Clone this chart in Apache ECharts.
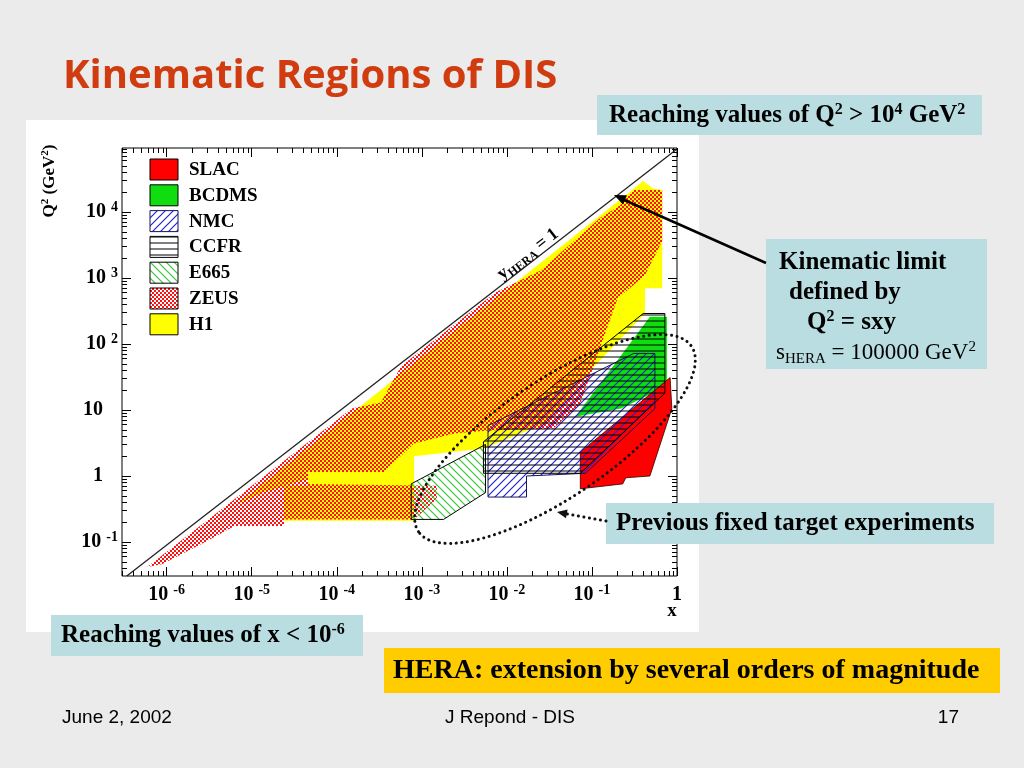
<!DOCTYPE html>
<html>
<head>
<meta charset="utf-8">
<title>Kinematic Regions of DIS</title>
<script src="https://cdn.jsdelivr.net/npm/echarts@6.0.0/dist/echarts.min.js"></script>
<style>
html,body{margin:0;padding:0;background:#ebebeb;}
#chart{width:1024px;height:768px;}
</style>
</head>
<body>
<div id="chart"></div>
<script>
// ---------------- data (x, Q^2 in GeV^2) ----------------
const xLogRange = [-6.525, 0];          // log10 x axis extent
const yLogRange = [-1.515, 4.97];       // log10 Q^2 axis extent
const xTickExponents = [-6, -5, -4, -3, -2, -1, 0];
const yTickExponents = [-1, 0, 1, 2, 3, 4];
const sHERA = 90200;                     // kinematic limit Q^2 = s x (y = 1)
const limitX = [3.4e-7, 1];
const legendNames = ['SLAC', 'BCDMS', 'NMC', 'CCFR', 'E665', 'ZEUS', 'H1'];

const slacRegion  = [[0.073,2.3],[0.83,31],[0.87,10.5],[0.48,1.0],[0.25,0.94],[0.23,0.76],[0.073,0.64]];
const bcdmsRegion = [[0.064,7.9],[0.48,260],[0.76,260],[0.76,23],[0.22,10.5]];
const nmcRegion   = [[0.006,5.8],[0.31,72],[0.55,72],[0.55,10.5],[0.084,1.1],[0.017,1.0],[0.017,0.48],[0.006,0.48]];
const ccfrRegion  = [[0.0053,3.3],[0.40,290],[0.72,290],[0.72,18],[0.073,1.1],[0.0053,1.1]];
const e665Region  = [[7.5e-4,0.76],[0.0056,3.0],[0.0056,0.56],[0.0018,0.22],[7.5e-4,0.22]];
const zeusRegion  = [[5.9e-7,0.042],[7.6e-6,0.54],[1.5e-4,10.5],[3.3e-4,13],[5.7e-4,46],[0.0074,610],
  [0.025,1300],[0.125,8100],[0.215,12700],[0.31,2.15e4],[0.67,2.15e4],[0.67,3600],[0.42,1100],[0.2,490],[0.136,120],
  [0.073,12.5],[0.035,5.2],[0.006,4.9],[0.0024,4.4],[8.1e-4,3.1],[3.6e-4,1.15],[4.6e-5,1.15],[4.6e-5,0.76],
  [0.0015,0.71],[0.0015,0.45],[8.1e-4,0.22],[2.4e-5,0.22],[2.4e-5,0.175],[6.3e-6,0.175],[2.6e-6,0.094],[8.8e-7,0.046]];
const h1Region    = [[6.8e-6,0.37],[4.7e-4,29],[0.37,2.7e4],[0.39,3.0e4],[0.52,2.3e4],[0.67,2.15e4],[0.67,700],
  [0.42,700],[0.42,290],[0.096,40],[0.028,6.2],[0.0053,2.6],[8.1e-4,2.0],[8.1e-4,0.21],[2.4e-5,0.21],
  [2.4e-5,0.71],[4.6e-5,0.71],[4.6e-5,0.91],[1.3e-5,0.56]];

// ---------------- helpers ----------------
const SERIF = '"Liberation Serif","Times New Roman",serif';
const SANS = '"Liberation Sans",Arial,sans-serif';

function makeCanvas(w, h, draw) {
  const c = document.createElement('canvas');
  c.width = w; c.height = h;
  draw(c.getContext('2d'));
  return c;
}
function hatch(size, color, dir, lw) {
  return makeCanvas(size, size, g => {
    g.strokeStyle = color; g.lineWidth = lw; g.beginPath();
    if (dir === 'h') { g.moveTo(0, size / 2); g.lineTo(size, size / 2); }
    else if (dir === '/') {
      g.moveTo(-1, 1); g.lineTo(1, -1);
      g.moveTo(0, size); g.lineTo(size, 0);
      g.moveTo(size - 1, size + 1); g.lineTo(size + 1, size - 1);
    } else {
      g.moveTo(-1, size - 1); g.lineTo(1, size + 1);
      g.moveTo(0, 0); g.lineTo(size, size);
      g.moveTo(size - 1, -1); g.lineTo(size + 1, 1);
    }
    g.stroke();
  });
}
const patterns = {
  ZEUS: { image: makeCanvas(4, 4, g => { g.fillStyle = '#ff1010'; g.fillRect(0, 0, 2, 2); g.fillRect(2, 2, 2, 2); }), repeat: 'repeat' },
  NMC:  { image: hatch(8, '#2424c8', '/', 1.2), repeat: 'repeat' },
  CCFR: { image: hatch(6, '#000000', 'h', 1), repeat: 'repeat' },
  E665: { image: hatch(8, '#34c834', '\\', 1.2), repeat: 'repeat' }
};
const fills = { SLAC: '#ff0000', BCDMS: '#10dd10', NMC: patterns.NMC, CCFR: patterns.CCFR, E665: patterns.E665, ZEUS: patterns.ZEUS, H1: '#ffff00' };

function minorTicks(range) {
  const out = [];
  for (let n = Math.floor(range[0]); n < Math.ceil(range[1]); n++) {
    for (let k = 2; k <= 9; k++) {
      const v = n + Math.log10(k);
      if (v > range[0] && v < range[1]) out.push(v);
    }
  }
  return out;
}
const xMinor = minorTicks(xLogRange);
const yMinor = minorTicks(yLogRange);

const labelRich = {
  b: { fontFamily: SERIF, fontWeight: 'bold', fontSize: 20, color: '#000', lineHeight: 24, verticalAlign: 'middle' },
  e: { fontFamily: SERIF, fontWeight: 'bold', fontSize: 14, color: '#000', lineHeight: 11, verticalAlign: 'top' },
  sp: { width: 15 }
};
function xLabel(v) { const n = Math.round(v); if (n === 0) return '{b|1}'; if (n === 1) return '{b|10}'; return '{b|10 }{e|' + n + '}'; }
function yLabel(v) { const n = Math.round(v); if (n === 0) return '{b|1}{sp|}'; if (n === 1) return '{b|10}{sp|}'; return '{b|10 }{e|' + n + '}'; }

function axis(kind, pos, vals, len, withLabels) {
  const r = kind === 'x' ? xLogRange : yLogRange;
  return {
    type: 'value', min: r[0], max: r[1], position: pos,
    axisLine: { show: false, onZero: false }, splitLine: { show: false },
    axisTick: { show: true, inside: true, length: len, customValues: vals, lineStyle: { color: '#000', width: 1 } },
    axisLabel: withLabels ? {
      show: true, customValues: vals, margin: kind === 'x' ? 7 : 4,
      formatter: kind === 'x' ? xLabel : yLabel, rich: labelRich
    } : { show: false }
  };
}

function polySeries(name, pts, fill, stroke, lw, z) {
  const data = pts.map(p => [Math.log10(p[0]), Math.log10(p[1])]);
  return {
    type: 'custom', name: name, z: z, silent: true, xAxisIndex: 0, yAxisIndex: 0,
    data: data,
    renderItem: function (params, api) {
      if (params.dataIndex !== 0) return null;
      const points = data.map(d => api.coord(d));
      return { type: 'polygon', shape: { points: points },
        style: { fill: fill, stroke: stroke || 'none', lineWidth: lw || 0 } };
    }
  };
}

// ---------------- graphics (slide decoration) ----------------
const boxBlue = '#b9dde1';
function textEl(text, x, y, font, opts) {
  return Object.assign({ type: 'text', z: 30, silent: true,
    style: Object.assign({ text: text, x: x, y: y, font: font, fill: '#000', verticalAlign: 'middle', textVerticalAlign: 'middle' }, (opts && opts.style) || {}) },
    (opts && opts.el) || {});
}
const supRich = (size, weight) => ({
  t: { fontFamily: SERIF, fontWeight: weight, fontSize: size, lineHeight: size + 4, verticalAlign: 'middle', color: '#000' },
  s: { fontFamily: SERIF, fontWeight: weight, fontSize: Math.round(size * 0.65), lineHeight: Math.round(size * 0.55), verticalAlign: 'top', color: '#000' },
  d: { fontFamily: SERIF, fontWeight: weight, fontSize: Math.round(size * 0.65), lineHeight: Math.round(size * 0.55), verticalAlign: 'bottom', color: '#000' }
});

const graphics = [
  { type: 'rect', z: 0, silent: true, shape: { x: 26, y: 120, width: 673, height: 512 }, style: { fill: '#ffffff' } },
  textEl('Kinematic Regions of DIS', 63, 77, 'bold 40px "Comic Sans MS","Open Sans",sans-serif', { style: { fill: '#d03c10' } }),
  // top box
  { type: 'rect', z: 25, silent: true, shape: { x: 597, y: 95, width: 385, height: 40 }, style: { fill: boxBlue } },
  { type: 'text', z: 30, silent: true, style: { x: 609, y: 116, verticalAlign: 'middle',
      text: '{t|Reaching values of Q}{s|2}{t| > 10}{s|4}{t| GeV}{s|2}', rich: supRich(25, 'bold') } },
  // kinematic limit box
  { type: 'rect', z: 25, silent: true, shape: { x: 766, y: 239, width: 221, height: 130 }, style: { fill: boxBlue } },
  textEl('Kinematic limit', 779, 263, 'bold 25px ' + SERIF),
  textEl('defined by', 789, 293, 'bold 25px ' + SERIF),
  { type: 'text', z: 30, silent: true, style: { x: 807, y: 323, verticalAlign: 'middle',
      text: '{t|Q}{s|2}{t| = sxy}', rich: supRich(25, 'bold') } },
  { type: 'text', z: 30, silent: true, style: { x: 776, y: 353, verticalAlign: 'middle',
      text: '{t|s}{d|HERA}{t| = 100000 GeV}{s|2}', rich: supRich(23, 'normal') } },
  // previous fixed target box
  { type: 'rect', z: 25, silent: true, shape: { x: 606, y: 503, width: 388, height: 41 }, style: { fill: boxBlue } },
  textEl('Previous fixed target experiments', 616, 524, 'bold 25px ' + SERIF),
  // x < 1e-6 box
  { type: 'rect', z: 25, silent: true, shape: { x: 51, y: 615, width: 312, height: 41 }, style: { fill: boxBlue } },
  { type: 'text', z: 30, silent: true, style: { x: 61, y: 636, verticalAlign: 'middle',
      text: '{t|Reaching values of x < 10}{s|-6}', rich: supRich(25, 'bold') } },
  // HERA box
  { type: 'rect', z: 25, silent: true, shape: { x: 384, y: 648, width: 616, height: 45 }, style: { fill: '#ffcc00' } },
  textEl('HERA: extension by several orders of magnitude', 393, 671, 'bold 28px ' + SERIF),
  // footer
  textEl('June 2, 2002', 62, 718, '19px ' + SANS),
  textEl('J Repond - DIS', 510, 718, '19px ' + SANS, { style: { textAlign: 'center', align: 'center' } }),
  textEl('17', 959, 718, '19px ' + SANS, { style: { textAlign: 'right', align: 'right' } }),
  // axis titles
  { type: 'text', z: 30, silent: true, x: 50, y: 181, rotation: Math.PI / 2,
    style: { x: 0, y: 0, align: 'center', verticalAlign: 'middle',
      text: '{t|Q}{s|2}{t| (GeV}{s|2}{t|)}', rich: supRich(17, 'bold') } },
  textEl('x', 672, 611, 'bold 19px ' + SERIF, { style: { textAlign: 'center', align: 'center' } }),
  // y_HERA = 1 label
  { type: 'text', z: 30, silent: true, x: 528, y: 254, rotation: Math.atan(428 / 555),
    style: { x: 0, y: 0, align: 'center', verticalAlign: 'middle',
      text: '{t|y}{d|HERA}{t| = 1}', rich: supRich(18, 'bold') } },
  // kinematic limit arrow
  { type: 'line', z: 40, silent: true, shape: { x1: 766, y1: 263, x2: 622, y2: 199 }, style: { stroke: '#000', lineWidth: 2.5 } },
  { type: 'polygon', z: 40, silent: true, shape: { points: [[614, 195], [627, 195.3], [623, 204.5]] }, style: { fill: '#000' } },
  // dotted ellipse and arrow
  { type: 'ellipse', z: 40, silent: true, x: 555, y: 439, rotation: 0.597,
    shape: { cx: 0, cy: 0, rx: 165, ry: 58 },
    style: { fill: 'none', stroke: '#111', lineWidth: 3, lineDash: [0.1, 5.5], lineCap: 'round' } },
  { type: 'line', z: 40, silent: true, shape: { x1: 606, y1: 521, x2: 567, y2: 514 },
    style: { stroke: '#111', lineWidth: 3, lineDash: [0.1, 5.5], lineCap: 'round' } },
  { type: 'polygon', z: 40, silent: true, shape: { points: [[557, 512], [567.6, 509.4], [566, 518.2]] }, style: { fill: '#111' } }
];

// legend
legendNames.forEach((nm, i) => {
  const top = 159 + i * 25.8;
  graphics.push({ type: 'rect', z: 30, silent: true, shape: { x: 150, y: top, width: 28, height: 21 },
    style: { fill: '#fff' } });
  graphics.push({ type: 'rect', z: 31, silent: true, shape: { x: 150, y: top, width: 28, height: 21 },
    style: { fill: fills[nm], stroke: nm === 'NMC' ? '#141460' : '#000', lineWidth: 1 } });
  graphics.push(textEl(nm, 189, top + 11, 'bold 19px ' + SERIF));
});

// ---------------- chart ----------------
const chart = echarts.init(document.getElementById('chart'), null, { renderer: 'canvas', width: 1024, height: 768 });
chart.setOption({
  animation: false,
  backgroundColor: '#ebebeb',
  grid: { left: 122, right: 347, top: 148, bottom: 192, show: true, borderColor: '#000', borderWidth: 1, backgroundColor: 'transparent', z: 15 },
  xAxis: [
    axis('x', 'bottom', xTickExponents, 9, true),
    axis('x', 'bottom', xMinor, 5, false),
    axis('x', 'top', xTickExponents, 9, false),
    axis('x', 'top', xMinor, 5, false)
  ],
  yAxis: [
    axis('y', 'left', yTickExponents, 9, true),
    axis('y', 'left', yMinor, 5, false),
    axis('y', 'right', yTickExponents, 9, false),
    axis('y', 'right', yMinor, 5, false)
  ],
  graphic: { elements: graphics },
  series: [
    polySeries('H1', h1Region, fills.H1, null, 0, 3),
    polySeries('ZEUS', zeusRegion, fills.ZEUS, null, 0, 4),
    polySeries('E665', e665Region, fills.E665, '#000', 1, 5),
    polySeries('BCDMS', bcdmsRegion, fills.BCDMS, null, 0, 6),
    polySeries('SLAC', slacRegion, fills.SLAC, '#300', 0.8, 7),
    polySeries('NMC', nmcRegion, fills.NMC, '#141460', 1, 8),
    polySeries('CCFR', ccfrRegion, fills.CCFR, '#000', 1, 9),
    {
      type: 'line', name: 'y=1', z: 12, silent: true, xAxisIndex: 0, yAxisIndex: 0,
      data: limitX.map(x => [Math.log10(x), Math.log10(sHERA * x)]),
      symbol: 'none', lineStyle: { color: '#222', width: 1.3 }
    }
  ]
});
</script>
</body>
</html>
